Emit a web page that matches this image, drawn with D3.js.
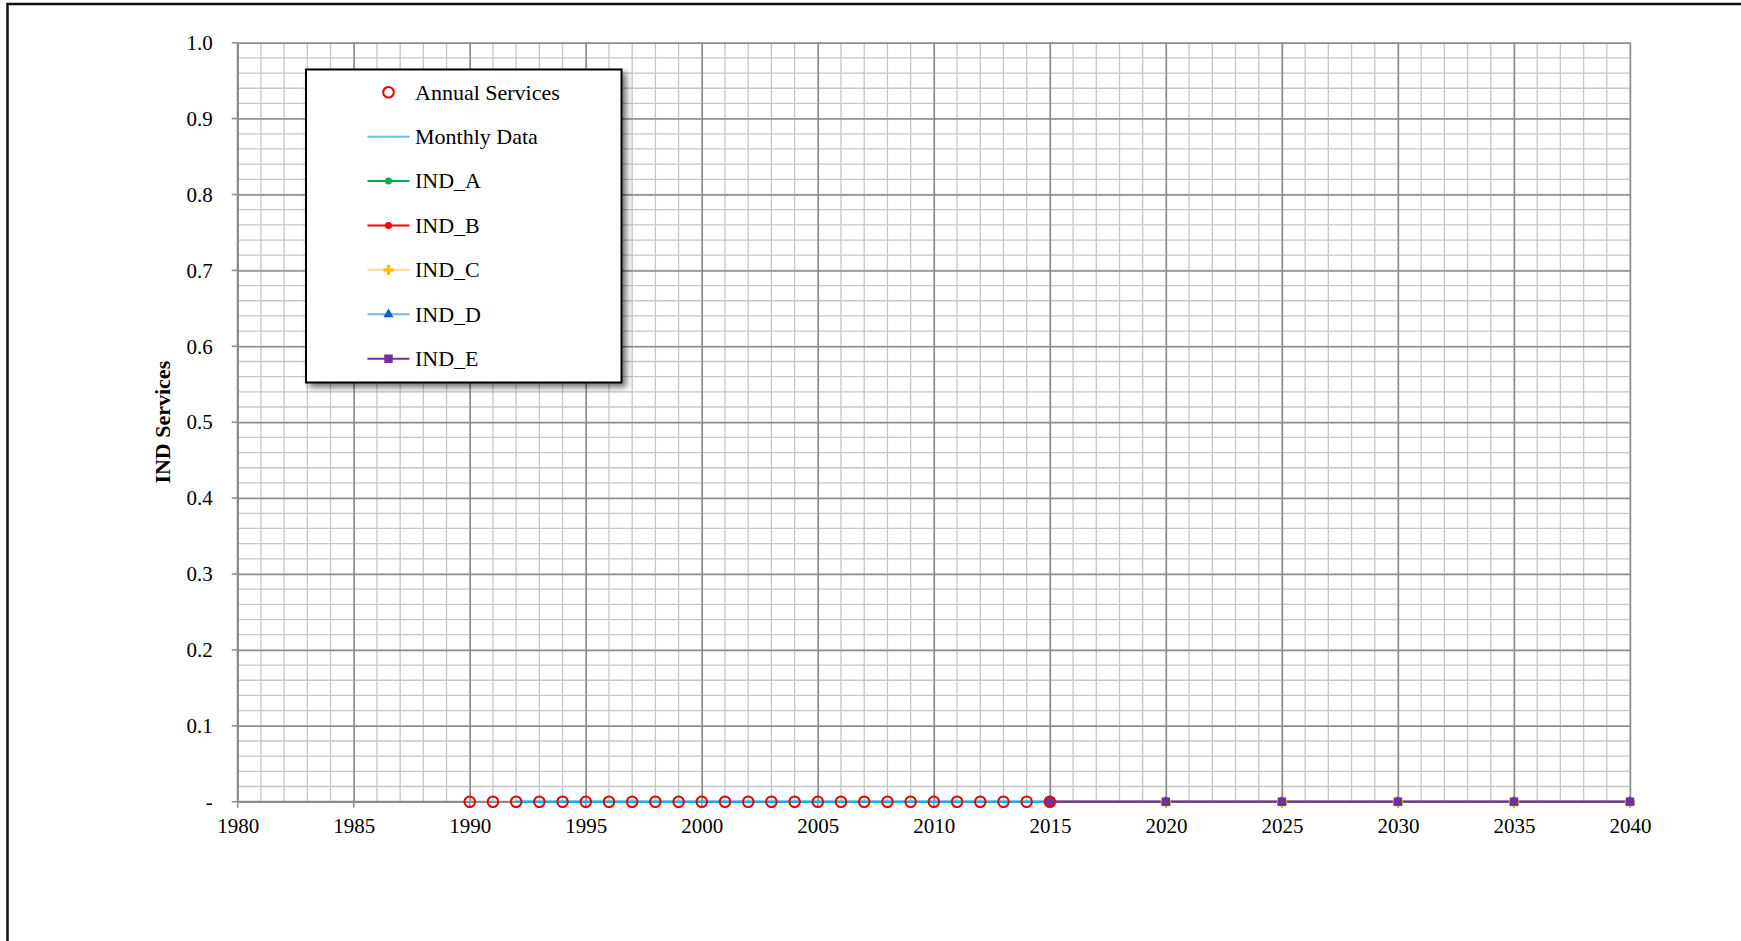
<!DOCTYPE html>
<html>
<head>
<meta charset="utf-8">
<script src="https://cdn.jsdelivr.net/npm/d3@7"></script>
<style>
  html, body { margin: 0; padding: 0; background: #fff; overflow: hidden; }
  svg { display: block; font-family: "Liberation Serif", "Times New Roman", serif; }
</style>
</head>
<body>
<svg id="chart" width="1741" height="941"></svg>
<script>
// ---- data ----
const xTickLabels = ["1980","1985","1990","1995","2000","2005","2010","2015","2020","2025","2030","2035","2040"];
const yTickLabels = ["-","0.1","0.2","0.3","0.4","0.5","0.6","0.7","0.8","0.9","1.0"];
const annualYears = [1990,1991,1992,1993,1994,1995,1996,1997,1998,1999,2000,2001,2002,2003,2004,2005,2006,2007,2008,2009,2010,2011,2012,2013,2014,2015];
const annualValues = [0,0,0,0,0,0,0,0,0,0,0,0,0,0,0,0,0,0,0,0,0,0,0,0,0,0];
const monthlyDates = [1992.0, 2015.0];
const monthlyValues = [0, 0];
const forecastYears = [2015, 2020, 2025, 2030, 2035, 2040];
const indA = [0, 0, 0, 0, 0, 0];
const indB = [0, 0, 0, 0, 0, 0];
const indC = [0, 0, 0, 0, 0, 0];
const indD = [0, 0, 0, 0, 0, 0];
const indE = [0, 0, 0, 0, 0, 0];
const seriesNames = ["Annual Services","Monthly Data","IND_A","IND_B","IND_C","IND_D","IND_E"];

// ---- layout ----
const svg = d3.select("#chart");
const x = d3.scaleLinear().domain([1980, 2040]).range([237.7, 1630]);
const y = d3.scaleLinear().domain([0, 1]).range([801.7, 42.7]);

// defs: legend shadow
const defs = svg.append("defs");
const f = defs.append("filter").attr("id", "shadow").attr("x", "-10%").attr("y", "-10%").attr("width", "130%").attr("height", "130%");
f.append("feGaussianBlur").attr("in", "SourceAlpha").attr("stdDeviation", 3);
f.append("feOffset").attr("dx", 4).attr("dy", 4).attr("result", "ob");
f.append("feComponentTransfer").append("feFuncA").attr("type", "linear").attr("slope", 0.55);
const fm = f.append("feMerge");
fm.append("feMergeNode");
fm.append("feMergeNode").attr("in", "SourceGraphic");

// outer frame
svg.append("rect").attr("x", 7.5).attr("y", 4).attr("width", 1800).attr("height", 1000)
  .attr("fill", "none").attr("stroke", "#111").attr("stroke-width", 2.5);

// grid
const g = svg.append("g");
const minorX = d3.range(1980, 2041, 1);
const minorY = d3.range(0, 1.0001, 0.02);
g.selectAll(".mx").data(minorX).join("line")
  .attr("x1", d => x(d)).attr("x2", d => x(d)).attr("y1", y(0)).attr("y2", y(1))
  .attr("stroke", "#c6c6c6").attr("stroke-width", 1.3);
g.selectAll(".my").data(minorY).join("line")
  .attr("x1", x(1980)).attr("x2", x(2040)).attr("y1", d => y(d)).attr("y2", d => y(d))
  .attr("stroke", "#c6c6c6").attr("stroke-width", 1.3);

// major grid via axes
const xAxis = d3.axisBottom(x).tickValues(xTickLabels.map(Number))
  .tickFormat((d, i) => xTickLabels[i]).tickSize(-(y(0) - y(1))).tickPadding(16);
const yAxis = d3.axisLeft(y).tickValues(yTickLabels.map((d, i) => i / 10))
  .tickFormat((d, i) => yTickLabels[i]).tickSize(-(x(2040) - x(1980))).tickPadding(25);

const gx = svg.append("g").attr("transform", `translate(0,${y(0)})`).call(xAxis);
gx.select(".domain").remove();
gx.selectAll(".tick line").attr("stroke", "#8c8c8c").attr("stroke-width", 1.5);
gx.selectAll(".tick text").attr("font-size", 21).attr("fill", "#000").attr("font-family", "Liberation Serif");

const gy = svg.append("g").attr("transform", `translate(${x(1980)},0)`).call(yAxis);
gy.select(".domain").remove();
gy.selectAll(".tick line").attr("stroke", "#8c8c8c").attr("stroke-width", 1.5);
gy.selectAll(".tick text").attr("font-size", 21).attr("fill", "#000").attr("font-family", "Liberation Serif");

// outward tick marks
svg.append("g").selectAll("line").data(xTickLabels.map(Number)).join("line")
  .attr("x1", d => x(d)).attr("x2", d => x(d)).attr("y1", y(0)).attr("y2", y(0) + 6)
  .attr("stroke", "#8c8c8c").attr("stroke-width", 1.5);
svg.append("g").selectAll("line").data(yTickLabels.map((d, i) => i / 10)).join("line")
  .attr("x1", x(1980) - 6).attr("x2", x(1980)).attr("y1", d => y(d)).attr("y2", d => y(d))
  .attr("stroke", "#8c8c8c").attr("stroke-width", 1.5);

// axis lines
svg.append("line").attr("x1", x(1980)).attr("x2", x(2040)).attr("y1", y(0)).attr("y2", y(0))
  .attr("stroke", "#8c8c8c").attr("stroke-width", 2);
svg.append("line").attr("x1", x(1980)).attr("x2", x(1980)).attr("y1", y(0)).attr("y2", y(1))
  .attr("stroke", "#8c8c8c").attr("stroke-width", 2);

// y-axis title
svg.append("text").attr("transform", `translate(170,${(y(0) + y(1)) / 2}) rotate(-90)`)
  .attr("text-anchor", "middle").attr("font-size", 22).attr("font-weight", "bold")
  .text("IND Services");

// ---- series ----
const styles = [
  { color: "#00b050", lw: 2, marker: "circle", mfill: "#00b050", size: 3.5 },
  { color: "#ff0000", lw: 2, marker: "circle", mfill: "#ff0000", size: 3.5 },
  { color: "#ffc000", lw: 1, marker: "cross", mfill: "#ffc000", size: 8 },
  { color: "#7eb4e2", lw: 2, marker: "triangle", mfill: "#0066c0", size: 9 },
  { color: "#7030a0", lw: 2, marker: "square", mfill: "#7030a0", size: 8.5 }
];
const indSeries = [indA, indB, indC, indD, indE];
const line = d3.line().x(d => x(d[0])).y(d => y(d[1]));

function drawMarker(sel, type, cx, cy, size, fill) {
  if (type === "circle") {
    sel.append("circle").attr("cx", cx).attr("cy", cy).attr("r", size).attr("fill", fill);
  } else if (type === "square") {
    sel.append("rect").attr("x", cx - size / 2).attr("y", cy - size / 2)
      .attr("width", size).attr("height", size).attr("fill", fill);
  } else if (type === "triangle") {
    sel.append("path").attr("d", d3.symbol(d3.symbolTriangle, size * size * 0.55)())
      .attr("transform", `translate(${cx},${cy})`).attr("fill", fill);
  } else if (type === "cross") {
    sel.append("path").attr("d", d3.symbol(d3.symbolCross, size * size * 0.9)())
      .attr("transform", `translate(${cx},${cy})`).attr("fill", fill);
  }
}

// monthly data line
svg.append("path").datum(monthlyDates.map((d, i) => [d, monthlyValues[i]]))
  .attr("d", line).attr("fill", "none").attr("stroke", "#1aaee8").attr("stroke-width", 2.5);

// IND lines and markers
const gs = svg.append("g");
indSeries.forEach((vals, si) => {
  const st = styles[si];
  const pts = forecastYears.map((yr, i) => [yr, vals[i]]);
  gs.append("path").datum(pts).attr("d", line).attr("fill", "none")
    .attr("stroke", st.color).attr("stroke-width", st.lw);
});
indSeries.forEach((vals, si) => {
  const st = styles[si];
  forecastYears.forEach((yr, i) => drawMarker(gs, st.marker, x(yr), y(vals[i]), st.size, st.mfill));
});
// base-year marker fill
gs.append("circle").attr("cx", x(forecastYears[0])).attr("cy", y(indE[0])).attr("r", 5.5).attr("fill", "#7030a0");

// annual services hollow circles
svg.append("g").selectAll("circle").data(annualYears.map((d, i) => [d, annualValues[i]])).join("circle")
  .attr("cx", d => x(d[0])).attr("cy", d => y(d[1])).attr("r", 5.3)
  .attr("fill", "none").attr("stroke", "#e60000").attr("stroke-width", 2);

// ---- legend ----
const lg = svg.append("g");
lg.append("rect").attr("x", 306).attr("y", 69.5).attr("width", 315.5).attr("height", 313)
  .attr("fill", "#fff").attr("stroke", "#000").attr("stroke-width", 2).attr("filter", "url(#shadow)");
const rowY = d => 92.3 + d * 44.4;
seriesNames.forEach((name, i) => {
  const cy = rowY(i);
  if (i === 0) {
    lg.append("circle").attr("cx", 388.5).attr("cy", cy).attr("r", 5.3)
      .attr("fill", "none").attr("stroke", "#e60000").attr("stroke-width", 2);
  } else if (i === 1) {
    lg.append("line").attr("x1", 367.5).attr("x2", 409.5).attr("y1", cy).attr("y2", cy)
      .attr("stroke", "#5cc6f2").attr("stroke-width", 2);
  } else {
    const st = styles[i - 2];
    lg.append("line").attr("x1", 367.5).attr("x2", 409.5).attr("y1", cy).attr("y2", cy)
      .attr("stroke", st.color).attr("stroke-width", st.lw);
    drawMarker(lg, st.marker, 388.5, cy, st.size, st.mfill);
  }
  lg.append("text").attr("x", 415).attr("y", cy).attr("dy", "0.33em")
    .attr("font-size", 22).attr("fill", "#000").text(name);
});
</script>
</body>
</html>
